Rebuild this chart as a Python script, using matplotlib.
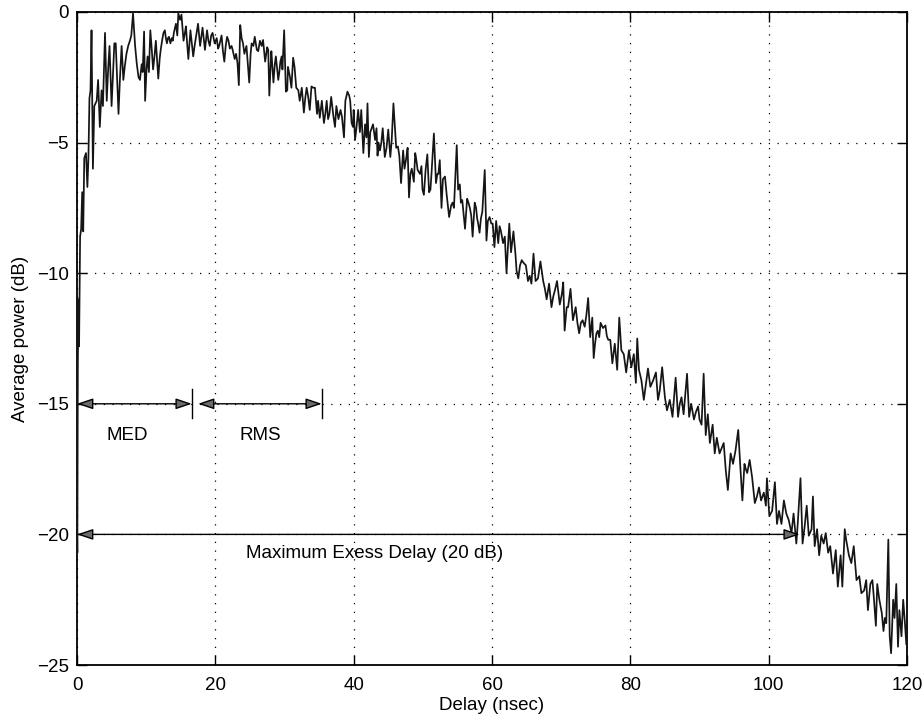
import matplotlib
matplotlib.use("Agg")
import matplotlib.pyplot as plt

# Power delay profile samples: excess delay (ns) and average power (dB)
delay_ns = [
    0.00, 0.05, 0.12, 0.22, 0.30, 0.45, 0.60, 0.75, 0.90, 1.05, 1.30, 1.50, 1.65, 1.80, 1.95,
    2.10, 2.30, 2.50, 2.85, 3.05, 3.30, 3.55, 3.75, 4.05, 4.30, 4.50, 4.70, 5.00, 5.20, 5.40,
    5.60, 6.00, 6.20, 6.45, 6.70, 6.90, 7.15, 7.40, 7.65, 7.85, 8.10, 8.40, 8.65, 8.90, 9.10,
    9.35, 9.50, 9.70, 9.85, 10.05, 10.20, 10.40, 10.60, 10.80, 11.00, 11.20, 11.40, 11.60, 11.75, 11.95,
    12.10, 12.30, 12.50, 12.70, 12.85, 13.00, 13.15, 13.30, 13.50, 13.70, 13.85, 14.00, 14.30, 14.50, 14.65,
    14.90, 15.10, 15.40, 15.60, 15.75, 15.95, 16.10, 16.40, 16.60, 16.80, 17.00, 17.20, 17.50, 17.80, 17.95,
    18.15, 18.50, 18.80, 19.00, 19.20, 19.40, 19.60, 19.90, 20.20, 20.40, 20.55, 20.90, 21.10, 21.30, 21.50,
    21.70, 21.90, 22.10, 22.35, 22.50, 22.80, 23.00, 23.20, 23.40, 23.60, 23.80, 24.00, 24.20, 24.50, 24.70,
    24.90, 25.10, 25.25, 25.50, 25.70, 26.00, 26.20, 26.45, 26.70, 26.90, 27.20, 27.50, 27.65, 27.80, 28.00,
    28.10, 28.40, 28.60, 28.75, 29.10, 29.25, 29.40, 29.60, 29.70, 29.95, 30.20, 30.40, 30.50, 30.80, 31.00,
    31.25, 31.45, 31.70, 32.00, 32.20, 32.50, 32.80, 33.00, 33.20, 33.40, 33.65, 33.90, 34.15, 34.40, 34.70,
    34.85, 35.10, 35.40, 35.70, 35.90, 36.10, 36.30, 36.50, 36.75, 37.05, 37.30, 37.50, 37.80, 38.10, 38.30,
    38.60, 38.80, 39.10, 39.35, 39.50, 39.70, 39.90, 40.00, 40.20, 40.40, 40.65, 40.90, 41.10, 41.40, 41.65,
    41.85, 42.00, 42.20, 42.40, 42.60, 42.80, 43.10, 43.30, 43.45, 43.60, 43.80, 44.00, 44.20, 44.50, 44.75,
    45.00, 45.30, 45.50, 45.75, 46.00, 46.15, 46.40, 46.60, 46.85, 47.15, 47.35, 47.60, 47.80, 48.00, 48.20,
    48.40, 48.70, 48.90, 49.00, 49.25, 49.60, 49.80, 49.95, 50.15, 50.40, 50.65, 50.90, 51.10, 51.25, 51.60,
    51.90, 52.10, 52.25, 52.45, 52.70, 52.90, 53.20, 53.45, 53.80, 54.10, 54.30, 54.50, 54.90, 55.10, 55.35,
    55.50, 55.70, 56.10, 56.40, 56.60, 56.80, 57.00, 57.20, 57.50, 57.70, 57.85, 58.00, 58.20, 58.40, 58.60,
    58.95, 59.20, 59.40, 59.65, 59.90, 60.10, 60.35, 60.60, 60.90, 61.10, 61.30, 61.60, 61.85, 62.10, 62.30,
    62.50, 62.75, 63.10, 63.40, 63.55, 63.80, 64.05, 64.30, 64.55, 64.90, 65.20, 65.45, 65.70, 66.00, 66.30,
    66.65, 67.00, 67.40, 67.65, 67.90, 68.25, 68.60, 68.85, 69.10, 69.40, 69.80, 70.10, 70.30, 70.50, 70.80,
    71.00, 71.35, 71.70, 72.10, 72.35, 72.60, 72.85, 73.10, 73.40, 73.65, 73.90, 74.20, 74.50, 74.70, 74.90,
    75.10, 75.30, 75.50, 75.70, 76.05, 76.40, 76.60, 76.80, 77.10, 77.40, 77.75, 78.10, 78.40, 78.70, 79.05,
    79.40, 79.80, 80.15, 80.50, 80.80, 81.00, 81.25, 81.60, 81.95, 82.20, 82.55, 82.90, 83.30, 83.70, 84.00,
    84.25, 84.60, 85.00, 85.30, 85.70, 86.10, 86.55, 86.90, 87.15, 87.40, 87.70, 88.20, 88.50, 88.80, 89.20,
    89.50, 89.80, 90.00, 90.30, 90.60, 90.90, 91.20, 91.50, 91.90, 92.20, 92.50, 92.90, 93.20, 93.50, 93.80,
    94.10, 94.50, 94.85, 95.20, 95.60, 95.90, 96.20, 96.50, 96.70, 96.90, 97.25, 97.60, 98.00, 98.30, 98.60,
    98.90, 99.30, 99.60, 99.75, 100.10, 100.50, 100.90, 101.20, 101.50, 101.85, 102.20, 102.55, 102.90, 103.30, 103.60,
    104.00, 104.20, 104.60, 104.90, 105.20, 105.50, 105.80, 106.20, 106.40, 106.65, 107.00, 107.30, 107.60, 107.95, 108.25,
    108.60, 108.90, 109.30, 109.70, 110.00, 110.40, 110.65, 111.00, 111.20, 111.60, 111.95, 112.30, 112.70, 113.10, 113.40,
    113.80, 114.10, 114.35, 114.70, 115.00, 115.20, 115.50, 115.70, 116.00, 116.35, 116.60, 116.80, 117.00, 117.30, 117.50,
    117.70, 118.00, 118.20, 118.45, 118.70, 118.90, 119.20, 119.45, 119.70, 119.90,
]
power_db = [
    -19.5, -20.7, -13.5, -11.0, -12.8, -8.6, -8.3, -6.9, -8.4, -5.6, -5.4, -6.7, -5.6, -3.3, -3.0,
    -0.7, -6.0, -3.6, -3.4, -2.6, -4.4, -3.0, -3.6, -0.8, -3.4, -2.2, -1.3, -3.6, -2.4, -1.2,
    -1.2, -3.9, -2.6, -1.3, -2.6, -2.1, -1.6, -1.3, -1.1, -0.9, -0.05, -1.3, -2.0, -2.5, -2.6,
    -2.0, -2.3, -0.75, -3.4, -2.2, -1.7, -2.3, -0.7, -1.4, -2.2, -1.7, -1.1, -1.9, -2.55, -1.8,
    -1.45, -1.1, -0.8, -0.7, -1.0, -1.2, -1.0, -0.95, -1.2, -1.0, -1.1, -0.8, -0.45, -0.9, -0.05,
    -0.3, -0.1, -1.1, -0.8, -0.55, -1.3, -1.8, -0.7, -1.2, -1.7, -1.3, -0.95, -0.45, -1.3, -1.0,
    -0.6, -1.45, -0.7, -1.1, -1.3, -0.9, -0.8, -1.2, -1.0, -1.4, -1.3, -0.9, -1.5, -1.9, -1.3,
    -0.95, -1.1, -1.4, -1.3, -1.45, -1.8, -1.6, -1.95, -2.8, -0.5, -1.0, -1.2, -1.6, -1.3, -2.0,
    -2.7, -1.6, -1.2, -1.3, -0.95, -1.45, -1.5, -1.1, -1.3, -1.07, -1.9, -1.35, -1.45, -3.2, -2.0,
    -1.5, -2.7, -2.0, -1.7, -2.6, -2.3, -1.9, -1.7, -2.2, -0.7, -3.05, -3.0, -2.1, -2.5, -2.9,
    -1.75, -2.1, -2.9, -3.0, -3.4, -2.9, -3.85, -3.3, -2.9, -3.2, -3.75, -2.85, -2.9, -2.9, -3.9,
    -3.4, -4.05, -3.4, -4.25, -3.9, -3.4, -4.1, -3.9, -3.25, -3.95, -4.4, -3.6, -4.1, -3.75, -4.0,
    -4.8, -3.4, -3.05, -3.2, -3.4, -4.25, -4.4, -3.75, -4.9, -4.45, -3.75, -4.6, -3.75, -5.4, -4.3,
    -4.8, -3.5, -5.55, -4.6, -4.45, -4.3, -4.9, -4.45, -5.5, -5.0, -5.3, -5.0, -4.45, -5.55, -5.2,
    -4.5, -5.55, -4.9, -3.5, -4.6, -5.2, -5.15, -5.5, -6.55, -5.3, -6.0, -5.6, -5.2, -7.1, -6.2,
    -6.0, -6.5, -5.4, -5.55, -6.05, -6.2, -5.9, -6.8, -7.0, -6.05, -5.45, -6.9, -6.8, -6.2, -4.65,
    -6.55, -6.2, -6.2, -5.67, -7.5, -6.4, -6.3, -7.0, -7.85, -7.4, -7.3, -7.5, -5.1, -6.8, -6.6,
    -7.3, -7.2, -8.3, -7.15, -7.3, -7.5, -7.8, -8.6, -7.3, -7.5, -7.9, -8.1, -8.45, -7.9, -7.65,
    -6.05, -8.75, -8.0, -7.85, -8.1, -8.1, -9.0, -8.0, -8.85, -8.2, -8.4, -8.85, -8.6, -10.0, -9.0,
    -8.1, -9.2, -8.4, -9.3, -9.9, -10.2, -9.7, -9.5, -9.6, -9.7, -10.3, -10.1, -10.4, -9.25, -10.3,
    -10.2, -9.55, -10.3, -10.6, -11.0, -10.4, -11.3, -10.9, -10.65, -10.3, -11.2, -10.8, -10.35, -12.2, -11.3,
    -11.3, -10.6, -11.8, -11.3, -11.9, -12.3, -11.9, -11.8, -12.05, -11.6, -10.95, -12.45, -11.7, -13.25, -12.7,
    -12.3, -12.2, -12.45, -11.9, -12.1, -12.0, -12.4, -12.55, -12.55, -13.45, -12.7, -13.7, -11.7, -12.95, -13.1,
    -13.8, -12.95, -13.6, -13.1, -14.2, -12.5, -13.7, -14.1, -14.85, -14.35, -13.65, -14.35, -14.1, -13.8, -14.85,
    -14.5, -13.6, -14.75, -15.25, -14.85, -15.5, -14.0, -15.5, -15.0, -14.75, -15.4, -13.85, -15.5, -15.0, -15.6,
    -15.3, -15.1, -15.6, -15.8, -13.85, -16.2, -15.4, -16.5, -15.8, -16.9, -16.3, -16.9, -16.7, -16.5, -17.55,
    -18.3, -16.9, -17.3, -16.8, -16.0, -17.4, -18.7, -17.3, -17.5, -17.65, -17.15, -17.8, -18.8, -18.55, -18.2,
    -18.7, -18.4, -18.9, -17.85, -19.3, -19.1, -18.0, -19.6, -19.1, -19.6, -18.7, -19.2, -19.45, -19.95, -19.2,
    -20.35, -19.6, -17.85, -20.35, -19.7, -18.9, -20.05, -19.8, -18.55, -20.45, -19.8, -20.8, -20.05, -20.35, -19.95,
    -20.7, -20.45, -21.5, -20.6, -22.0, -20.8, -22.0, -19.8, -20.2, -20.8, -21.1, -20.45, -21.75, -21.6, -22.25,
    -22.15, -21.75, -22.9, -21.9, -21.75, -22.4, -23.5, -21.9, -22.5, -23.0, -23.7, -23.2, -23.4, -20.2, -23.9,
    -24.55, -22.5, -23.2, -21.9, -24.3, -22.9, -23.9, -22.5, -23.4, -24.2,
]

x_ticks = [0, 20, 40, 60, 80, 100, 120]
y_ticks = [-25, -20, -15, -10, -5, 0]

# Delay-spread markers (ns) and the power levels they are drawn at (dB)
med_ns = 16.6
rms_start_ns = 17.5
rms_end_ns = 35.4
max_excess_ns = 104.5
spread_level_db = -15
excess_level_db = -20

plt.rcParams["font.family"] = ["Liberation Sans", "DejaVu Sans"]

fig = plt.figure(figsize=(9.22, 7.16), dpi=100)
ax = fig.add_axes([77 / 922, 51 / 716, 830 / 922, 653 / 716])

ax.plot(delay_ns, power_db, color="#151515", lw=1.25, zorder=3)

ax.set_xlim(0, 120)
ax.set_ylim(-25, 0)
ax.set_xticks(x_ticks)
ax.set_yticks(y_ticks)
ax.tick_params(direction="in", top=True, right=True, length=7, width=1.0,
               labelsize=13.5, pad=6, colors="black")
ax.tick_params(axis="x", pad=9)
ax.grid(True, color="black", linestyle=(0, (1, 6)), linewidth=0.9)
for sp in ax.spines.values():
    sp.set_linewidth(1.3)

ax.set_xlabel("Delay (nsec)", fontsize=13.5)
ax.set_ylabel("Average power (dB)", fontsize=13.5)
ax.xaxis.set_label_coords(0.5, -0.049)
ax.yaxis.set_label_coords(-0.058, 0.5)

arrow_style = dict(arrowstyle="<|-|>,head_length=0.65,head_width=0.22",
                   color="black", fc="#6a6a6a", lw=1.0, mutation_scale=15,
                   shrinkA=0, shrinkB=0)

# Mean excess delay
ax.annotate("", xy=(0, spread_level_db), xytext=(med_ns, spread_level_db),
            arrowprops=arrow_style, zorder=4)
ax.plot([med_ns, med_ns], [spread_level_db + 0.55, spread_level_db - 0.55],
        color="black", lw=1.0, zorder=4)
ax.text(med_ns / 2 - 1.1, spread_level_db - 1.2, "MED", ha="center", va="center",
        fontsize=13.5)

# RMS delay spread
ax.annotate("", xy=(rms_start_ns, spread_level_db), xytext=(rms_end_ns, spread_level_db),
            arrowprops=arrow_style, zorder=4)
ax.plot([rms_end_ns, rms_end_ns], [spread_level_db + 0.55, spread_level_db - 0.55],
        color="black", lw=1.0, zorder=4)
ax.text((rms_start_ns + rms_end_ns) / 2, spread_level_db - 1.2, "RMS", ha="center",
        va="center", fontsize=13.5)

# Maximum excess delay at the 20 dB threshold
ax.annotate("", xy=(0, excess_level_db), xytext=(max_excess_ns, excess_level_db),
            arrowprops=arrow_style, zorder=4)
ax.text(43.0, excess_level_db - 0.72, "Maximum Exess Delay (20 dB)", ha="center",
        va="center", fontsize=13.5)

fig.savefig("out.png", dpi=100, facecolor="white")
